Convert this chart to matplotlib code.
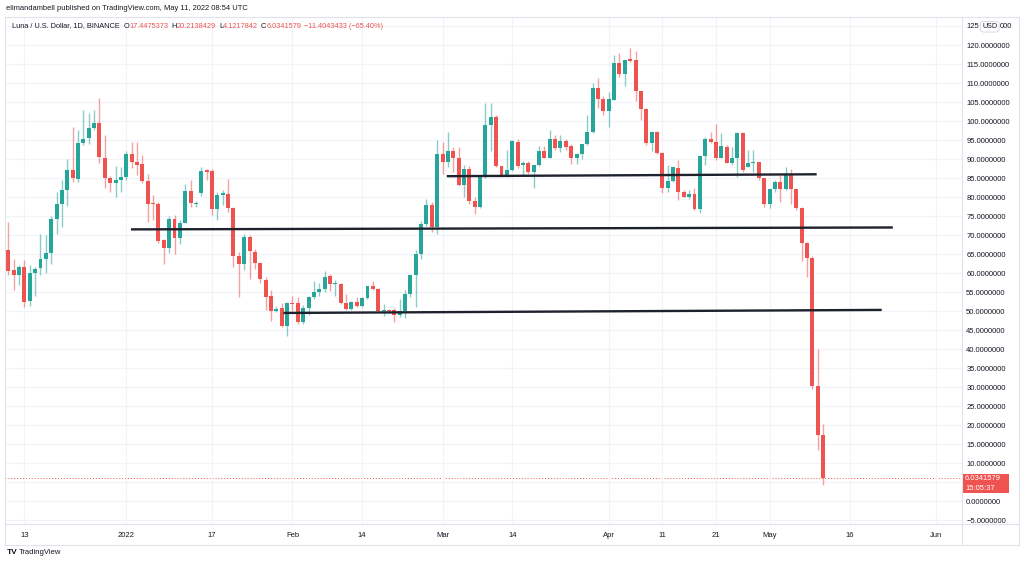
import matplotlib
matplotlib.use("Agg")
import matplotlib.pyplot as plt
import matplotlib.dates as mdates
from matplotlib.lines import Line2D
from matplotlib.patches import Rectangle, FancyBboxPatch
import pandas as pd

plt.rcParams['font.family'] = ['Liberation Sans', 'DejaVu Sans']

# daily LUNA/USD candles, 2021-12-10 .. 2022-05-11
opens = [66.0, 60.8, 59.5, 61.6, 52.7, 59.9, 61.4, 63.8, 65.4, 74.1,
         78.1, 81.8, 87.1, 84.8, 94.3, 95.6, 98.1, 99.4, 90.4, 84.9,
         83.6, 84.5, 85.2, 91.3, 89.3, 88.6, 84.2, 78.4, 78.1, 68.6,
         66.7, 74.2, 69.2, 73.3, 81.6, 78.1, 81.2, 87.1, 86.9, 76.8,
         80.5, 80.9, 77.0, 64.5, 62.5, 69.5, 65.5, 62.6, 58.3, 53.9,
         50.1, 50.7, 46.0, 52.2, 52.0, 47.2, 50.9, 53.6, 55.1, 55.7,
         59.2, 57.0, 57.2, 52.2, 50.5, 52.5, 51.2, 53.5, 56.5, 55.7,
         49.9, 50.3, 50.3, 49.0, 50.0, 54.4, 59.4, 64.9, 72.9, 77.9,
         72.2, 91.3, 89.3, 92.2, 90.2, 83.2, 87.3, 79.1, 77.5, 85.2,
         99.0, 101.0, 88.2, 85.6, 87.1, 94.5, 88.4, 88.9, 86.5, 88.4,
         92.0, 90.4, 95.4, 92.8, 94.7, 93.4, 90.2, 91.3, 93.9, 97.1,
         108.8, 105.7, 102.6, 105.5, 115.2, 112.5, 116.2, 116.0, 107.9, 103.2,
         94.3, 97.2, 91.7, 82.5, 84.3, 87.6, 81.4, 80.0, 80.7, 76.8,
         90.9, 95.3, 94.4, 90.4, 93.2, 89.0, 90.4, 96.9, 88.0, 88.9,
         89.2, 84.9, 78.1, 82.1, 84.1, 82.1, 86.2, 82.1, 77.0, 67.8,
         64.0, 30.2, 17.4475373]
highs = [73.4, 63.8, 62.0, 63.4, 62.0, 61.5, 70.3, 70.0, 75.0, 81.4,
         84.5, 90.0, 98.5, 97.6, 102.9, 102.2, 102.9, 106.0, 96.3, 85.5,
         88.2, 88.0, 92.2, 94.5, 94.5, 91.0, 86.2, 80.5, 78.8, 69.0,
         75.0, 75.3, 74.0, 83.4, 84.5, 79.0, 87.8, 87.5, 87.5, 81.4,
         81.8, 84.7, 77.5, 65.5, 70.2, 70.0, 66.4, 63.0, 59.0, 55.5,
         51.2, 52.0, 52.5, 54.0, 53.8, 51.6, 54.0, 58.0, 57.3, 60.5,
         59.7, 58.2, 57.4, 54.6, 52.6, 53.8, 53.8, 56.7, 57.9, 56.0,
         51.9, 50.5, 50.8, 53.3, 55.5, 59.7, 66.0, 73.7, 79.4, 78.8,
         95.0, 94.5, 97.2, 93.2, 93.2, 88.4, 88.2, 80.0, 85.6, 104.7,
         104.7, 101.6, 88.2, 92.4, 94.9, 95.4, 89.4, 89.4, 88.4, 93.4,
         93.4, 97.6, 96.3, 96.3, 95.4, 94.1, 91.6, 93.9, 101.5, 110.0,
         111.4, 106.5, 107.7, 117.4, 118.0, 116.2, 119.2, 118.5, 108.0, 103.5,
         97.5, 97.5, 91.9, 88.4, 88.0, 89.7, 81.8, 81.8, 82.3, 90.9,
         95.9, 97.2, 99.2, 96.8, 93.7, 93.2, 97.2, 97.2, 92.4, 92.4,
         89.2, 85.0, 82.1, 84.5, 85.8, 88.0, 87.5, 82.1, 77.3, 68.2,
         64.5, 40.0, 20.2138429]
lows = [59.5, 55.5, 56.9, 51.1, 51.3, 54.0, 59.5, 60.1, 62.3, 70.2,
        72.2, 77.7, 84.0, 84.0, 93.7, 93.9, 97.6, 88.9, 82.5, 81.4,
        80.0, 81.4, 84.5, 87.6, 85.8, 83.6, 73.5, 74.0, 67.8, 62.3,
        65.2, 65.0, 67.6, 73.1, 77.5, 77.5, 80.3, 84.5, 75.4, 73.9,
        77.8, 76.0, 61.6, 53.8, 60.8, 58.5, 61.0, 57.5, 50.4, 47.3,
        49.8, 45.9, 43.4, 50.0, 46.7, 46.7, 48.9, 53.3, 53.9, 55.1,
        55.3, 54.0, 51.8, 50.3, 50.3, 51.0, 51.1, 53.3, 55.5, 49.8,
        48.7, 49.5, 47.0, 48.5, 48.3, 53.8, 51.0, 63.8, 72.5, 70.9,
        70.4, 86.1, 88.0, 86.6, 82.9, 80.1, 78.1, 75.5, 77.0, 85.0,
        92.0, 88.0, 85.4, 85.4, 86.9, 87.6, 85.8, 86.2, 82.5, 88.2,
        90.2, 90.2, 92.4, 91.9, 92.4, 88.7, 88.7, 89.9, 93.7, 96.8,
        103.4, 101.5, 98.5, 105.5, 111.7, 109.3, 115.6, 105.4, 100.3, 93.7,
        92.0, 91.4, 81.0, 81.4, 83.9, 79.2, 79.9, 79.6, 76.6, 75.9,
        88.4, 94.2, 89.7, 90.4, 88.9, 88.4, 85.3, 86.6, 87.8, 86.6,
        84.6, 77.4, 77.0, 81.4, 78.8, 81.8, 78.3, 76.6, 63.2, 59.0,
        29.5, 13.4, 4.1217842]
closes = [60.5, 59.5, 61.6, 52.4, 59.9, 61.2, 63.8, 65.4, 74.2, 78.1,
          81.8, 87.1, 85.1, 94.3, 95.4, 98.1, 99.4, 90.6, 84.9, 83.8,
          84.5, 85.4, 91.3, 89.3, 88.4, 84.2, 78.2, 78.2, 68.4, 66.7,
          74.2, 69.2, 73.1, 81.6, 78.4, 78.4, 86.9, 86.7, 76.8, 80.5,
          81.0, 77.0, 64.5, 62.5, 69.5, 65.7, 62.6, 58.5, 53.8, 50.1,
          50.6, 46.0, 52.0, 51.9, 47.2, 50.9, 53.7, 55.1, 55.7, 59.0,
          57.0, 57.4, 52.0, 50.5, 52.3, 51.2, 53.4, 56.5, 55.7, 49.9,
          50.3, 50.0, 49.0, 50.0, 54.4, 59.4, 64.9, 72.9, 77.9, 72.2,
          91.3, 89.3, 92.2, 90.2, 83.2, 87.4, 79.1, 77.5, 85.4, 99.0,
          101.0, 88.2, 85.8, 87.1, 94.7, 88.2, 88.9, 86.5, 88.4, 92.0,
          90.4, 95.4, 92.8, 94.7, 93.2, 90.2, 91.3, 93.9, 97.1, 108.8,
          105.7, 102.6, 105.7, 115.2, 112.5, 116.2, 115.9, 107.9, 103.2, 94.3,
          97.2, 91.7, 82.3, 84.3, 87.8, 81.4, 80.0, 80.7, 76.8, 90.9,
          95.3, 94.4, 90.4, 93.4, 89.0, 90.4, 96.9, 87.1, 88.9, 89.2,
          84.9, 78.1, 82.1, 84.1, 82.1, 86.2, 82.1, 77.0, 67.8, 64.0,
          30.2, 17.4, 6.0341579]
dates = pd.date_range("2021-12-10", periods=len(opens), freq="D")

# hand drawn horizontal lines
line_start = ["2022-01-01 21:00", "2022-01-30 08:00", "2022-03-01 19:00"]
line_start_y = [71.5, 49.5, 85.5]
line_end = ["2022-05-24 00:00", "2022-05-21 22:00", "2022-05-09 19:00"]
line_end_y = [72.0, 50.3, 86.0]

tick_dates = ["2021-12-13", "2022-01-01", "2022-01-17", "2022-02-01", "2022-02-14", "2022-03-01",
              "2022-03-14", "2022-04-01", "2022-04-11", "2022-04-21", "2022-05-01", "2022-05-16",
              "2022-06-01"]
tick_labels = ["13", "2022", "17", "Feb", "14", "Mar", "14", "Apr", "11", "21", "May", "16", "Jun"]
price_ticks = [-5, 0, 5, 10, 15, 20, 25, 30, 35, 40, 45, 50, 55, 60, 65, 70, 75, 80, 85, 90,
               95, 100, 105, 110, 115, 120, 125]
hidden_ticks = [5, 125]   # covered by the price tag / currency badge

GREEN = '#26a69a'
RED = '#ef5350'
TXT = '#131722'
FS = 5.5
W, H = 1024, 565

fig = plt.figure(figsize=(10.24, 5.65), dpi=100)
ax = fig.add_axes([5 / W, 1 - 524 / H, (962 - 5) / W, (524 - 17) / H])

x = mdates.date2num(dates)
x0 = mdates.date2num(pd.Timestamp("2021-12-10"))
ax.set_xlim(x0 - 0.62, x0 + 177.9)
ax.set_ylim(-6.05, 127.4)

for xi, o, h, l, c in zip(x, opens, highs, lows, closes):
    col = GREEN if c >= o else RED
    ax.vlines(xi, l, h, color=col, lw=1.0, alpha=0.55, zorder=2)
    ax.bar(xi, max(abs(c - o), 0.35), bottom=min(o, c), width=0.74, color=col, zorder=3)

for s, sy, e, ey in zip(line_start, line_start_y, line_end, line_end_y):
    ax.plot(mdates.date2num([pd.Timestamp(s), pd.Timestamp(e)]), [sy, ey],
            color='#1e222d', lw=1.7, solid_capstyle='butt', zorder=4)

# last price line
ax.axhline(closes[-1], color=RED, lw=0.7, ls=(0, (1, 2)), zorder=1)

ax.set_xticks(mdates.date2num(pd.to_datetime(tick_dates)))
ax.set_xticklabels(tick_labels)
ax.set_yticks(price_ticks)
ax.set_yticklabels(["" if v in hidden_ticks else f"{v:.7f}".replace('-', '\u2212')
                    for v in price_ticks])
ax.yaxis.tick_right()
ax.tick_params(axis='y', length=0, pad=3, labelsize=FS, labelcolor=TXT)
ax.tick_params(axis='x', length=0, pad=5.5, labelsize=FS, labelcolor=TXT)
ax.grid(color='#f0f3fa', lw=0.8, zorder=0)
for sp in ax.spines.values():
    sp.set_visible(False)

# frame lines
border = '#e0e3eb'
for (xa, ya, xb, yb) in [(5, 17, 1019, 17), (5, 524, 1019, 524), (5, 545, 1019, 545),
                         (5, 17, 5, 545), (1019, 17, 1019, 545), (962, 17, 962, 545)]:
    fig.add_artist(Line2D([xa / W, xb / W], [1 - ya / H, 1 - yb / H], color=border, lw=0.8))

# last price tag
fig.add_artist(Rectangle((962 / W, 1 - 493 / H), 47 / W, 19 / H, color=RED, lw=0))
fig.text(965 / W, 1 - 479 / H, "6.0341579", color='white', fontsize=FS, va='center')
fig.text(965 / W, 1 - 488.5 / H, "15:05:37", color='white', fontsize=FS, va='center')

# top label split around the currency badge
fig.text(966 / W, 1 - 26.5 / H, "125", color=TXT, fontsize=FS, va='center')
fig.add_artist(FancyBboxPatch((981.5 / W, 1 - 31.5 / H), 16.5 / W, 9.5 / H,
                              boxstyle="round,pad=0.001,rounding_size=0.004",
                              fc='white', ec='#d1d4dc', lw=0.6))
fig.text(989.7 / W, 1 - 26.5 / H, "USD", color=TXT, fontsize=FS - 0.3, ha='center', va='center')
fig.text(999.5 / W, 1 - 26.5 / H, "000", color=TXT, fontsize=FS, va='center')

fig.text(6 / W, 1 - 8 / H, "elimandambell published on TradingView.com, May 11, 2022 08:54 UTC",
         color=TXT, fontsize=5.4, va='center')

# OHLC legend, pieces laid out one after another
renderer = fig.canvas.get_renderer()
parts = [("Luna / U.S. Dollar, 1D, BINANCE", TXT, 4), ("O", TXT, 0), ("17.4475373", RED, 3),
         ("H", TXT, 0), ("20.2138429", RED, 3), ("L", TXT, 0), ("4.1217842", RED, 3),
         ("C", TXT, 0), ("6.0341579", RED, 3), ("\u221211.4043433 (\u221265.40%)", RED, 0)]
px = 12
for txt, col, gap in parts:
    t = fig.text(px / W, 1 - 26 / H, txt, color=col, fontsize=5.3, va='center')
    px += t.get_window_extent(renderer).width + gap

fig.text(7 / W, 1 - 553 / H, "TV", color=TXT, fontsize=6, fontweight='bold', va='center')
fig.text(19 / W, 1 - 553 / H, "TradingView", color=TXT, fontsize=5.5, va='center')

fig.savefig("out.png", dpi=100)
